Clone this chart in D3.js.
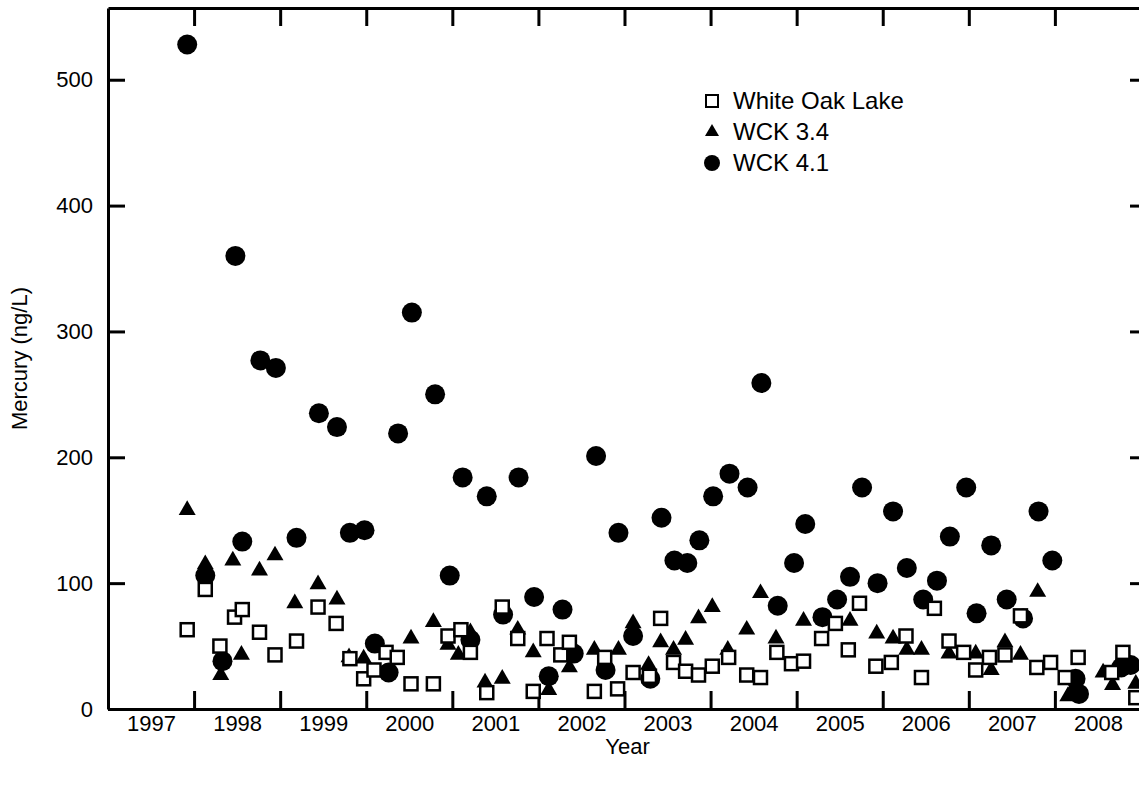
<!DOCTYPE html>
<html>
<head>
<meta charset="utf-8">
<script src="https://cdn.jsdelivr.net/npm/d3@7/dist/d3.min.js"></script>
<style>
    body { margin: 0; background: #fff; }
    svg { display: block; font-family: "Liberation Sans", Arial, sans-serif; }
    .axis path, .axis line { stroke: #000; stroke-width: 3; }
    .axis text { font-size: 22px; fill: #000; }
</style>
</head>
<body>
<div class="container"></div>
<script>
// sample dates as decimal years, mercury in ng/L
var lakeDates = [1997.92, 1998.13, 1998.30, 1998.47, 1998.56, 1998.76, 1998.94, 1999.19, 1999.44, 1999.65,
    1999.81, 1999.97, 2000.09, 2000.23, 2000.36, 2000.52, 2000.78, 2000.95, 2001.10, 2001.21,
    2001.40, 2001.58, 2001.76, 2001.94, 2002.10, 2002.26, 2002.36, 2002.65, 2002.77, 2002.92,
    2003.10, 2003.29, 2003.42, 2003.57, 2003.71, 2003.86, 2004.02, 2004.21, 2004.42, 2004.58,
    2004.77, 2004.94, 2005.08, 2005.29, 2005.45, 2005.60, 2005.73, 2005.92, 2006.10, 2006.27,
    2006.45, 2006.60, 2006.77, 2006.94, 2007.08, 2007.24, 2007.42, 2007.60, 2007.79, 2007.95,
    2008.12, 2008.27, 2008.66, 2008.79, 2008.94];
var lakeValues = [63, 95, 50, 73, 79, 61, 43, 54, 81, 68,
    40, 24, 31, 45, 41, 20, 20, 58, 63, 45,
    13, 81, 56, 14, 56, 43, 53, 14, 41, 16,
    29, 26, 72, 37, 30, 27, 34, 41, 27, 25,
    45, 36, 38, 56, 68, 47, 84, 34, 37, 58,
    25, 80, 54, 45, 31, 41, 43, 74, 33, 37,
    25, 41, 29, 45, 9];

var wck34Dates = [1997.92, 1998.13, 1998.31, 1998.45, 1998.55, 1998.76, 1998.94, 1999.17, 1999.44, 1999.66,
    1999.80, 1999.97, 2000.52, 2000.78, 2000.95, 2001.07, 2001.21, 2001.38, 2001.58, 2001.76,
    2001.94, 2002.12, 2002.36, 2002.65, 2002.93, 2003.10, 2003.28, 2003.42, 2003.57, 2003.71,
    2003.86, 2004.02, 2004.20, 2004.42, 2004.58, 2004.76, 2005.08, 2005.62, 2005.93, 2006.12,
    2006.28, 2006.45, 2006.77, 2007.08, 2007.26, 2007.42, 2007.60, 2007.80, 2008.15, 2008.21,
    2008.56, 2008.67, 2008.94];
var wck34Values = [158, 115, 27, 118, 43, 110, 122, 84, 99, 87,
    41, 40, 56, 69, 51, 43, 61, 21, 24, 63,
    45, 15, 33, 47, 47, 68, 35, 53, 47, 55,
    72, 81, 47, 63, 92, 56, 70, 70, 60, 56,
    47, 47, 44, 44, 31, 53, 43, 93, 10, 16,
    29, 19, 20];

var wck41Dates = [1997.92, 1998.13, 1998.33, 1998.48, 1998.56, 1998.77, 1998.95, 1999.19, 1999.45, 1999.66,
    1999.81, 1999.98, 2000.10, 2000.26, 2000.37, 2000.53, 2000.80, 2000.97, 2001.12, 2001.21,
    2001.40, 2001.59, 2001.77, 2001.95, 2002.12, 2002.28, 2002.41, 2002.67, 2002.78, 2002.93,
    2003.10, 2003.30, 2003.43, 2003.58, 2003.73, 2003.87, 2004.03, 2004.22, 2004.43, 2004.59,
    2004.78, 2004.97, 2005.10, 2005.30, 2005.47, 2005.62, 2005.76, 2005.94, 2006.12, 2006.28,
    2006.47, 2006.63, 2006.78, 2006.97, 2007.09, 2007.26, 2007.44, 2007.63, 2007.81, 2007.97,
    2008.24, 2008.28, 2008.77, 2008.88];
var wck41Values = [528, 106, 38, 360, 133, 277, 271, 136, 235, 224,
    140, 142, 52, 29, 219, 315, 250, 106, 184, 55,
    169, 75, 184, 89, 26, 79, 44, 201, 31, 140,
    58, 24, 152, 118, 116, 134, 169, 187, 176, 259,
    82, 116, 147, 73, 87, 105, 176, 100, 157, 112,
    87, 102, 137, 176, 76, 130, 87, 72, 157, 118,
    24, 12, 33, 35];

var yearLabels = ["1997", "1998", "1999", "2000", "2001", "2002", "2003", "2004", "2005", "2006", "2007", "2008"];
var mercuryTicks = [0, 100, 200, 300, 400, 500];
var legendNames = ["White Oak Lake", "WCK 3.4", "WCK 4.1"];

const OUTER_WIDTH = 1139;
const OUTER_HEIGHT = 785;
const LEFT = 108, RIGHT = 1147, TOP = 8, BOTTOM = 709;
const TICK = 18;

var toPoints = function (dates, values) {
    return dates.map(function (d, i) { return {date: d, value: values[i]}; });
};

var svg = d3.select('.container').append('svg')
    .attr('width', OUTER_WIDTH)
    .attr('height', OUTER_HEIGHT);

var xScale = d3.scaleLinear()
    .domain([1997, 2009.07])
    .range([LEFT, RIGHT]);

var yScale = d3.scaleLinear()
    .domain([0, 557])
    .range([BOTTOM, TOP]);

var yearBounds = yearLabels.slice(1).map(Number);
var yearMids = yearLabels.map(function (y) { return +y + 0.5; });

// frame + inward ticks on all four sides
svg.append('g').attr('class', 'axis')
    .attr('transform', 'translate(0,' + BOTTOM + ')')
    .call(d3.axisBottom(xScale).tickValues(yearBounds).tickSize(-TICK).tickSizeOuter(0).tickFormat(''));
svg.append('g').attr('class', 'axis')
    .attr('transform', 'translate(0,' + TOP + ')')
    .call(d3.axisTop(xScale).tickValues(yearBounds).tickSize(-TICK).tickSizeOuter(0).tickFormat(''));
svg.append('g').attr('class', 'axis')
    .attr('transform', 'translate(' + LEFT + ',0)')
    .call(d3.axisLeft(yScale).tickValues(mercuryTicks).tickSize(-17).tickSizeOuter(0).tickPadding(15));
svg.append('g').attr('class', 'axis')
    .attr('transform', 'translate(' + RIGHT + ',0)')
    .call(d3.axisRight(yScale).tickValues(mercuryTicks).tickSize(-17).tickSizeOuter(0).tickFormat(''));

// year labels sit in the middle of each year
var yearAxis = svg.append('g').attr('class', 'axis')
    .attr('transform', 'translate(0,' + BOTTOM + ')')
    .call(d3.axisBottom(xScale).tickValues(yearMids).tickSize(0).tickPadding(6)
        .tickFormat(function (d) { return String(Math.floor(d)); }));
yearAxis.select('.domain').remove();

svg.append('text')
    .attr('x', (LEFT + RIGHT) / 2)
    .attr('y', 754)
    .attr('text-anchor', 'middle')
    .style('font-size', '22px')
    .text('Year');

svg.append('text')
    .attr('transform', 'translate(27,' + ((TOP + BOTTOM) / 2) + ') rotate(-90)')
    .attr('text-anchor', 'middle')
    .style('font-size', '22px')
    .text('Mercury (ng/L)');

var plot = svg.append('g');

plot.selectAll('circle.wck41')
    .data(toPoints(wck41Dates, wck41Values))
    .enter().append('circle')
    .attr('class', 'wck41')
    .attr('cx', function (d) { return xScale(d.date); })
    .attr('cy', function (d) { return yScale(d.value); })
    .attr('r', 10)
    .attr('fill', '#000');

var triangle = d3.symbol().type(d3.symbolTriangle).size(125);
plot.selectAll('path.wck34')
    .data(toPoints(wck34Dates, wck34Values))
    .enter().append('path')
    .attr('class', 'wck34')
    .attr('d', triangle)
    .attr('transform', function (d) {
        return 'translate(' + xScale(d.date) + ',' + yScale(d.value) + ')';
    })
    .attr('fill', '#000');

plot.selectAll('rect.lake')
    .data(toPoints(lakeDates, lakeValues))
    .enter().append('rect')
    .attr('class', 'lake')
    .attr('x', function (d) { return xScale(d.date) - 6.5; })
    .attr('y', function (d) { return yScale(d.value) - 6.5; })
    .attr('width', 13)
    .attr('height', 13)
    .attr('fill', '#fff')
    .attr('stroke', '#000')
    .attr('stroke-width', 2.5);

// legend
var legend = svg.append('g').attr('transform', 'translate(712,0)');
var legendRows = legend.selectAll('g')
    .data(legendNames)
    .enter().append('g')
    .attr('transform', function (d, i) { return 'translate(0,' + (101 + i * 31) + ')'; });

legendRows.each(function (d, i) {
    var row = d3.select(this);
    if (i === 0) {
        row.append('rect').attr('x', -6).attr('y', -6).attr('width', 12).attr('height', 12)
            .attr('fill', '#fff').attr('stroke', '#000').attr('stroke-width', 2);
    } else if (i === 1) {
        row.append('path').attr('d', d3.symbol().type(d3.symbolTriangle).size(85)).attr('fill', '#000');
    } else {
        row.append('circle').attr('r', 8).attr('fill', '#000');
    }
    row.append('text')
        .attr('x', 21)
        .attr('dy', '0.35em')
        .style('font-size', '24px')
        .text(d);
});
</script>
</body>
</html>
